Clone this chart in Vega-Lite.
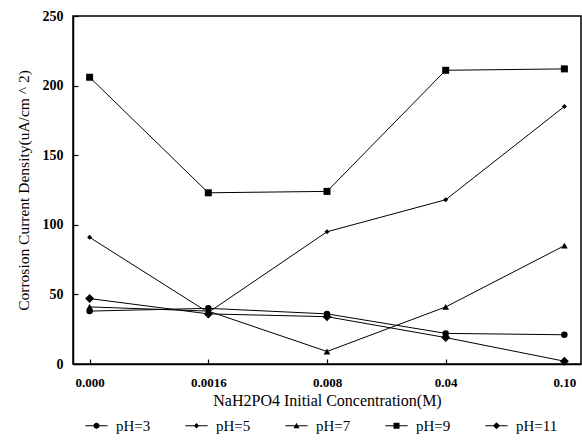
{
  "$schema": "https://vega.github.io/schema/vega-lite/v6.json",
  "width": 508,
  "height": 348,
  "autosize": "none",
  "padding": {"left": 73, "top": 16, "right": 1, "bottom": 77},
  "background": "white",
  "config": {
    "font": "Liberation Serif",
    "view": {"stroke": "black", "strokeWidth": 1.5},
    "axis": {
      "domainColor": "black",
      "domainWidth": 1.5,
      "tickColor": "black",
      "tickWidth": 1.2,
      "tickSize": -5,
      "grid": false,
      "labelFont": "Liberation Serif",
      "labelFontWeight": "bold",
      "labelFontSize": 13,
      "labelColor": "black",
      "titleFont": "Liberation Serif",
      "titleFontWeight": "normal",
      "titleFontSize": 15.5,
      "titleColor": "black"
    }
  },
  "data": {
    "values": [
      {"conc": "0.000", "series": "pH=3", "value": 38},
      {"conc": "0.0016", "series": "pH=3", "value": 40},
      {"conc": "0.008", "series": "pH=3", "value": 36},
      {"conc": "0.04", "series": "pH=3", "value": 22},
      {"conc": "0.10", "series": "pH=3", "value": 21},
      {"conc": "0.000", "series": "pH=5", "value": 91},
      {"conc": "0.0016", "series": "pH=5", "value": 37},
      {"conc": "0.008", "series": "pH=5", "value": 95},
      {"conc": "0.04", "series": "pH=5", "value": 118},
      {"conc": "0.10", "series": "pH=5", "value": 185},
      {"conc": "0.000", "series": "pH=7", "value": 41},
      {"conc": "0.0016", "series": "pH=7", "value": 38},
      {"conc": "0.008", "series": "pH=7", "value": 9},
      {"conc": "0.04", "series": "pH=7", "value": 41},
      {"conc": "0.10", "series": "pH=7", "value": 85},
      {"conc": "0.000", "series": "pH=9", "value": 206},
      {"conc": "0.0016", "series": "pH=9", "value": 123},
      {"conc": "0.008", "series": "pH=9", "value": 124},
      {"conc": "0.04", "series": "pH=9", "value": 211},
      {"conc": "0.10", "series": "pH=9", "value": 212},
      {"conc": "0.000", "series": "pH=11", "value": 47},
      {"conc": "0.0016", "series": "pH=11", "value": 36},
      {"conc": "0.008", "series": "pH=11", "value": 34},
      {"conc": "0.04", "series": "pH=11", "value": 19},
      {"conc": "0.10", "series": "pH=11", "value": 2}
    ]
  },
  "encoding": {
    "x": {
      "field": "conc",
      "type": "ordinal",
      "sort": ["0.000", "0.0016", "0.008", "0.04", "0.10"],
      "scale": {"type": "point", "padding": 0.14},
      "axis": {
        "title": "NaH2PO4 Initial Concentration(M)",
        "titleFontSize": 16,
        "labelAngle": 0,
        "labelPadding": 17,
        "titlePadding": 3
      }
    },
    "y": {
      "field": "value",
      "type": "quantitative",
      "scale": {"domain": [0, 250], "nice": false},
      "axis": {
        "title": "Corrosion Current Density(uA/cm ^ 2)",
        "values": [0, 50, 100, 150, 200, 250],
        "labelFontSize": 14,
        "labelPadding": 15,
        "titlePadding": 11
      }
    }
  },
  "layer": [
    {
      "mark": {"type": "line", "color": "black", "strokeWidth": 1},
      "encoding": {"detail": {"field": "series", "type": "nominal"}}
    },
    {
      "mark": {"type": "point", "filled": true, "color": "black", "opacity": 1},
      "encoding": {
        "shape": {
          "field": "series",
          "type": "nominal",
          "scale": {
            "domain": ["pH=3", "pH=5", "pH=7", "pH=9", "pH=11"],
            "range": ["circle", "diamond", "triangle-up", "square", "diamond"]
          },
          "legend": null
        },
        "size": {
          "condition": [
            {"test": "datum.series === 'pH=5'", "value": 25},
            {"test": "datum.series === 'pH=11'", "value": 81},
            {"test": "datum.series === 'pH=9'", "value": 49},
            {"test": "datum.series === 'pH=7'", "value": 45}
          ],
          "value": 42
        }
      }
    },
    {
      "mark": {"type": "point", "filled": true, "color": "black", "opacity": 0},
      "encoding": {
        "shape": {
          "field": "series",
          "type": "nominal",
          "scale": {
            "domain": ["pH=3", "pH=5", "pH=7", "pH=9", "pH=11"],
            "range": [
              "M-3.7,-0.17H3.7V0.17H-3.7ZM1,0A1,1 0 1,1 -1,0A1,1 0 1,1 1,0Z",
              "M-3.7,-0.17H3.7V0.17H-3.7ZM0,-0.9L0.9,0L0,0.9L-0.9,0Z",
              "M-3.7,-0.17H3.7V0.17H-3.7ZM0,-1L1,0.8L-1,0.8Z",
              "M-3.7,-0.17H3.7V0.17H-3.7ZM-1,-1H1V1H-1Z",
              "M-3.7,-0.17H3.7V0.17H-3.7ZM0,-1.2L1.2,0L0,1.2L-1.2,0Z"
            ]
          },
          "legend": {
            "title": null,
            "orient": "none",
            "direction": "horizontal",
            "legendX": 16,
            "legendY": 402,
            "padding": 0,
            "gridAlign": "all",
            "columnPadding": 24,
            "symbolSize": 36,
            "symbolOpacity": 1,
            "symbolFillColor": "black",
            "labelOffset": 12,
            "labelFont": "Liberation Serif",
            "labelFontSize": 15,
            "labelColor": "black",
            "labelLimit": 200
          }
        }
      }
    }
  ],
  "resolve": {"scale": {"shape": "independent"}, "legend": {"shape": "independent"}}
}
